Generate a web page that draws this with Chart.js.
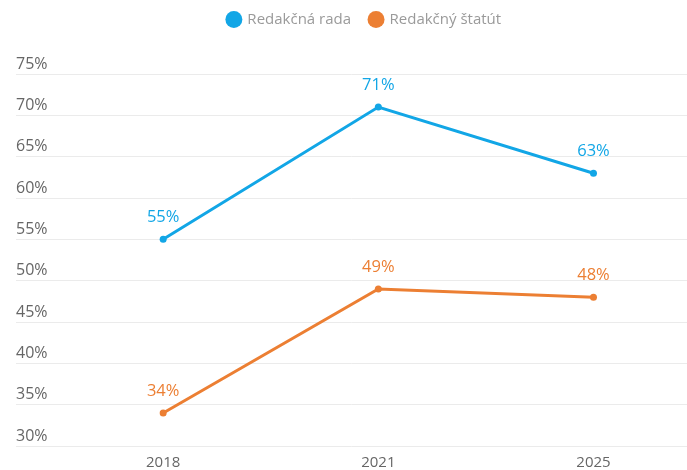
<!DOCTYPE html>
<html>
<head>
<meta charset="utf-8">
<script src="https://cdn.jsdelivr.net/npm/chart.js@4/dist/chart.umd.min.js"></script>
<style>
  html, body { margin: 0; padding: 0; background: #fff; overflow: hidden; }
  #wrap { width: 691px; height: 470px; position: relative; }
</style>
</head>
<body>
<div id="wrap"><canvas id="chart"></canvas></div>
<script>
// survey years and share of outlets (%)
const years = ["2018", "2021", "2025"];
const boardValues = [55, 71, 63];    // Redakčná rada
const statuteValues = [34, 49, 48];  // Redakčný štatút
const yTicks = [30, 35, 40, 45, 50, 55, 60, 65, 70, 75];

const BLUE = "#12a6e6";
const ORANGE = "#ec7f33";

const toPoints = (vals) => vals.map((v, i) => ({ x: i, y: v }));

// value labels above each point, in series colour
const pointLabels = {
  id: "pointLabels",
  afterDatasetsDraw(chart) {
    const ctx = chart.ctx;
    ctx.save();
    ctx.font = "16.5px 'Open Sans'";
    ctx.textAlign = "center";
    ctx.textBaseline = "alphabetic";
    chart.data.datasets.forEach((ds, di) => {
      const meta = chart.getDatasetMeta(di);
      ctx.fillStyle = ds.borderColor;
      meta.data.forEach((pt, i) => {
        ctx.fillText(ds.data[i].y + "%", pt.x, pt.y - 17);
      });
    });
    ctx.restore();
  },
};

// extra room between legend and plot, legend nudged right and up
const legendGap = {
  id: "legendGap",
  beforeInit(chart) {
    const fit = chart.legend.fit;
    chart.legend.fit = function () {
      fit.bind(chart.legend)();
      this.height += 30;
    };
  },
  afterLayout(chart) {
    chart.legend.left += 7;
    chart.legend.right += 7;
    chart.legend.top -= 7;
    chart.legend.bottom -= 7;
  },
};

new Chart(document.getElementById("chart"), {
  type: "line",
  data: {
    datasets: [
      {
        label: "Redakčná rada",
        data: toPoints(boardValues),
        borderColor: BLUE,
        backgroundColor: BLUE,
        borderWidth: 3,
        pointRadius: 3.5,
        pointBorderWidth: 0,
        pointHoverRadius: 3.5,
        tension: 0,
      },
      {
        label: "Redakčný štatút",
        data: toPoints(statuteValues),
        borderColor: ORANGE,
        backgroundColor: ORANGE,
        borderWidth: 3,
        pointRadius: 3.5,
        pointBorderWidth: 0,
        pointHoverRadius: 3.5,
        tension: 0,
      },
    ],
  },
  options: {
    responsive: true,
    maintainAspectRatio: false,
    animation: false,
    layout: { padding: { left: 16, right: -8, top: 0, bottom: -2 } },
    plugins: {
      legend: {
        position: "top",
        labels: {
          usePointStyle: true,
          pointStyle: "circle",
          boxWidth: 12,
          boxHeight: 12,
          padding: 19,
          color: "#9a9a9a",
          font: { family: "'Open Sans'", size: 15 },
        },
      },
      tooltip: { enabled: false },
    },
    scales: {
      x: {
        type: "linear",
        min: -0.684,
        max: 2.437,
        afterBuildTicks: (scale) => {
          scale.ticks = years.map((_, i) => ({ value: i }));
        },
        ticks: {
          callback: (v) => years[v],
          color: "#666",
          font: { family: "'Open Sans'", size: 15 },
          padding: 0,
        },
        grid: { display: false },
        border: { display: false },
      },
      y: {
        min: 30,
        max: 75,
        afterBuildTicks: (scale) => {
          scale.ticks = yTicks.map((v) => ({ value: v }));
        },
        ticks: {
          mirror: true,
          padding: 0,
          labelOffset: -10,
          callback: (v) => v + "%",
          color: "#666",
          font: { family: "'Open Sans'", size: 16 },
        },
        grid: { color: "#ebebeb", lineWidth: 1, drawTicks: false },
        border: { display: false },
      },
    },
  },
  plugins: [pointLabels, legendGap],
});
</script>
</body>
</html>
